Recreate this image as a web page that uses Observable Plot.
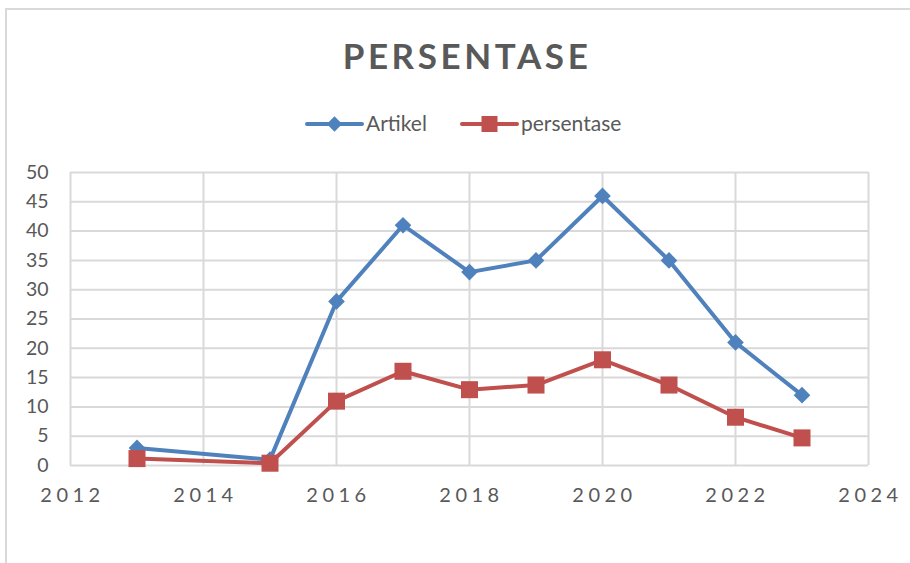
<!DOCTYPE html>
<html>
<head>
<meta charset="utf-8">
<script src="https://cdn.jsdelivr.net/npm/d3@7"></script>
<script src="https://cdn.jsdelivr.net/npm/@observablehq/plot@0.6"></script>
<style>
  html, body { margin: 0; padding: 0; background: #fff; }
  #wrap { position: relative; width: 910px; height: 563px; overflow: hidden; font-family: Lato, "Open Sans", sans-serif; }
  #frame { position: absolute; left: 5px; top: 8px; width: 1200px; height: 1200px; border-left: 2px solid #d9d9d9; border-top: 2px solid #d9d9d9; }
  #header { position: absolute; left: 0; top: 0; }
  #chart { position: absolute; left: 0; top: 150px; }
  #chart g[aria-label="x-axis tick label"] text { letter-spacing: 4.5px; }
</style>
</head>
<body>
<div id="wrap">
  <div id="frame"></div>
  <svg id="header" width="910" height="150"></svg>
  <div id="chart"></div>
</div>
<script>
const titleText = "PERSENTASE";
const seriesNames = ["Artikel", "persentase"];
const seriesColors = ["#4f81bd", "#c0504d"];
const years = [2013, 2015, 2016, 2017, 2018, 2019, 2020, 2021, 2022, 2023];
const artikel = [3, 1, 28, 41, 33, 35, 46, 35, 21, 12];
const persentase = [1.18, 0.39, 10.98, 16.08, 12.94, 13.73, 18.04, 13.73, 8.24, 4.71];
const xTicks = [2012, 2014, 2016, 2018, 2020, 2022, 2024];
const yTicks = [0, 5, 10, 15, 20, 25, 30, 35, 40, 45, 50];

const textColor = "#595959";
const gridColor = "#d9d9d9";

// Header: title + legend
const header = d3.select("#header");
header.append("text")
  .attr("x", 467).attr("y", 69)
  .attr("text-anchor", "middle")
  .attr("fill", textColor)
  .style("font-family", "Lato, sans-serif")
  .style("font-weight", "bold")
  .style("font-size", "35px")
  .style("letter-spacing", "3.6px")
  .text(titleText);

const legendItems = [
  {name: seriesNames[0], color: seriesColors[0], x0: 307, sym: "diamond"},
  {name: seriesNames[1], color: seriesColors[1], x0: 462, sym: "square"}
];
const ly = 124;
legendItems.forEach(it => {
  const g = header.append("g");
  g.append("line").attr("x1", it.x0).attr("x2", it.x0 + 55).attr("y1", ly).attr("y2", ly)
    .attr("stroke", it.color).attr("stroke-width", 4).attr("stroke-linecap", "round");
  const cx = it.x0 + 27.5;
  if (it.sym === "diamond") {
    g.append("path").attr("d", d3.symbol(d3.symbolDiamond2, 150)()).attr("transform", `translate(${cx},${ly})`).attr("fill", it.color);
  } else {
    g.append("rect").attr("x", cx - 8).attr("y", ly - 8).attr("width", 16).attr("height", 16).attr("fill", it.color);
  }
  g.append("text").attr("x", it.x0 + 59).attr("y", ly + 7)
    .attr("fill", textColor)
    .style("font-family", "Lato, sans-serif")
    .style("font-size", "21px")
    .text(it.name);
});

const rowsA = years.map((y, i) => ({year: y, value: artikel[i]}));
const rowsP = years.map((y, i) => ({year: y, value: persentase[i]}));

const chart = Plot.plot({
  width: 910,
  height: 380,
  marginLeft: 70,
  marginRight: 42,
  marginTop: 22,
  marginBottom: 65,
  style: {fontFamily: "Lato, sans-serif", color: textColor, background: "transparent"},
  x: {domain: [2012, 2024]},
  y: {domain: [0, 50]},
  marks: [
    Plot.gridY(yTicks, {stroke: gridColor, strokeOpacity: 1, strokeWidth: 2}),
    Plot.gridX(xTicks, {stroke: gridColor, strokeOpacity: 1, strokeWidth: 2}),
    Plot.axisY(yTicks, {tickSize: 0, tickPadding: 22, fontSize: 19.5, fill: textColor, label: null}),
    Plot.axisX(xTicks, {tickSize: 0, tickPadding: 22, fontSize: 20, fill: textColor, label: null, tickFormat: d => String(d), dx: 2}),
    Plot.line(rowsA, {x: "year", y: "value", stroke: seriesColors[0], strokeWidth: 4}),
    Plot.dot(rowsA, {x: "year", y: "value", symbol: "diamond2", r: 7.5, fill: seriesColors[0], stroke: "none"}),
    Plot.line(rowsP, {x: "year", y: "value", stroke: seriesColors[1], strokeWidth: 4}),
    Plot.dot(rowsP, {x: "year", y: "value", symbol: "square", r: 9.6, fill: seriesColors[1], stroke: "none"})
  ]
});
document.getElementById("chart").appendChild(chart);
</script>
</body>
</html>
